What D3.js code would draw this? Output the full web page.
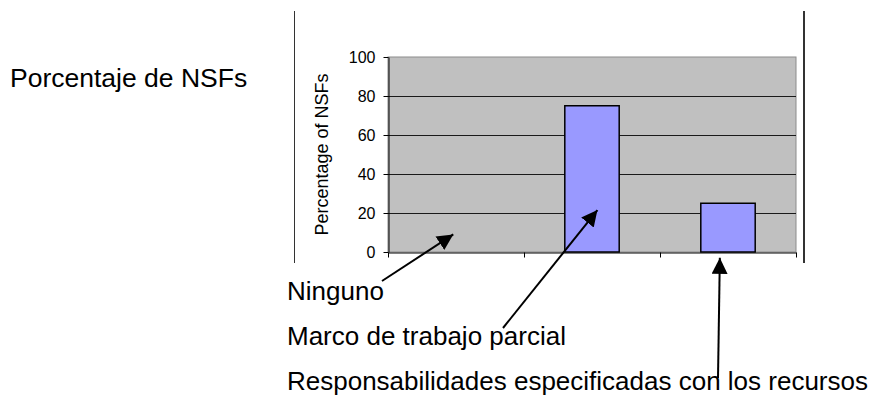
<!DOCTYPE html>
<html>
<head>
<meta charset="utf-8">
<script src="https://cdn.jsdelivr.net/npm/d3@7"></script>
<style>
  body { margin: 0; background: #fff; }
  text { font-family: "Liberation Sans", Arial, sans-serif; fill: #000; }
</style>
</head>
<body>
<div id="chart"></div>
<script>
const categories = ['Ninguno', 'Marco de trabajo parcial', 'Responsabilidades especificadas con los recursos'];
const values = [0, 75, 25];
const yTicks = [0, 20, 40, 60, 80, 100];
const yTitle = 'Percentage of NSFs';
const sideTitle = 'Porcentaje de NSFs';

const width = 883;
const height = 396;
const plot = {left: 388, right: 796, top: 57, bottom: 252};

// SCALES
const x = d3.scaleBand()
    .domain(categories)
    .range([plot.left, plot.right])
    .paddingInner(0.6)
    .paddingOuter(0.3);

// category boundaries for the x ticks
const xb = d3.scaleLinear()
    .domain([0, categories.length])
    .range([plot.left, plot.right]);

const y = d3.scaleLinear()
    .domain([0, 100])
    .range([plot.bottom, plot.top]);

const svg = d3.select('#chart').append('svg')
    .attr('width', width)
    .attr('height', height);

svg.append('defs').append('marker')
    .attr('id', 'head')
    .attr('viewBox', '0 0 10 10')
    .attr('refX', 10)
    .attr('refY', 5)
    .attr('markerUnits', 'userSpaceOnUse')
    .attr('markerWidth', 16)
    .attr('markerHeight', 16)
    .attr('orient', 'auto')
  .append('path')
    .attr('d', 'M0,0L10,5L0,10Z')
    .attr('fill', '#000');

// frame lines left and right of the chart object
svg.append('line')
    .attr('x1', 294.5).attr('x2', 294.5)
    .attr('y1', 11).attr('y2', 263)
    .attr('stroke', '#333').attr('stroke-width', 1);
svg.append('line')
    .attr('x1', 804).attr('x2', 804)
    .attr('y1', 11).attr('y2', 263)
    .attr('stroke', '#333').attr('stroke-width', 2);

// plot area
svg.append('rect')
    .attr('x', plot.left)
    .attr('y', plot.top)
    .attr('width', plot.right - plot.left)
    .attr('height', plot.bottom - plot.top)
    .attr('fill', '#c0c0c0')
    .attr('stroke', '#8c8c8c')
    .attr('stroke-width', 1);

// gridlines
svg.append('g')
    .selectAll('line')
    .data(yTicks.filter(d => d > 0 && d < 100))
    .join('line')
        .attr('x1', plot.left)
        .attr('x2', plot.right)
        .attr('y1', d => Math.round(y(d)) + 0.5)
        .attr('y2', d => Math.round(y(d)) + 0.5)
        .attr('stroke', '#1a1a1a')
        .attr('stroke-width', 1);

// bars
svg.append('g')
    .selectAll('rect')
    .data(values)
    .join('rect')
        .attr('x', (d, i) => x(categories[i]))
        .attr('y', d => y(d))
        .attr('width', x.bandwidth())
        .attr('height', d => y(0) - y(d))
        .attr('fill', d => d > 0 ? '#9999ff' : 'none')
        .attr('stroke', d => d > 0 ? '#000' : 'none')
        .attr('stroke-width', 1.5);

// AXES
svg.append('g')
    .attr('transform', `translate(${plot.left + 0.5},0)`)
    .call(d3.axisLeft(y)
        .tickValues(yTicks)
        .tickSize(5)
        .tickSizeOuter(0)
        .tickPadding(8))
    .call(g => g.select('.domain').attr('stroke', '#000'))
    .call(g => g.selectAll('.tick line').attr('stroke', '#000'))
    .call(g => g.selectAll('.tick text')
        .attr('font-family', '"Liberation Sans", Arial, sans-serif')
        .attr('font-size', '16px')
        .attr('fill', '#000'));

svg.append('g')
    .attr('transform', `translate(0,${plot.bottom + 0.5})`)
    .call(d3.axisBottom(xb)
        .ticks(categories.length)
        .tickSize(5)
        .tickSizeOuter(0)
        .tickFormat(''))
    .call(g => g.select('.domain').attr('stroke', '#000'))
    .call(g => g.selectAll('.tick line').attr('stroke', '#000'));

svg.append('text')
    .attr('transform', `translate(328, ${(plot.top + plot.bottom) / 2}) rotate(-90)`)
    .attr('text-anchor', 'middle')
    .attr('font-size', '18px')
    .text(yTitle);

svg.append('text')
    .attr('x', 10)
    .attr('y', 87)
    .attr('font-size', '26.5px')
    .text(sideTitle);

// category labels with arrows pointing at their bars
const labelY = [300, 345, 390];
const tails = [[382, 281], [503, 328], [718, 378]];
// tip position: fraction across the band, value height
const tips = [[0.45, 9], [0.6, 21.5], [0.35, -3]];

svg.append('g')
    .selectAll('text')
    .data(categories)
    .join('text')
        .attr('x', 287)
        .attr('y', (d, i) => labelY[i])
        .attr('font-size', '26px')
        .text(d => d);

svg.append('g')
    .selectAll('line')
    .data(categories)
    .join('line')
        .attr('x1', (d, i) => tails[i][0])
        .attr('y1', (d, i) => tails[i][1])
        .attr('x2', (d, i) => x(d) + x.bandwidth() * tips[i][0])
        .attr('y2', (d, i) => y(tips[i][1]))
        .attr('stroke', '#000')
        .attr('stroke-width', 2)
        .attr('marker-end', 'url(#head)');
</script>
</body>
</html>
